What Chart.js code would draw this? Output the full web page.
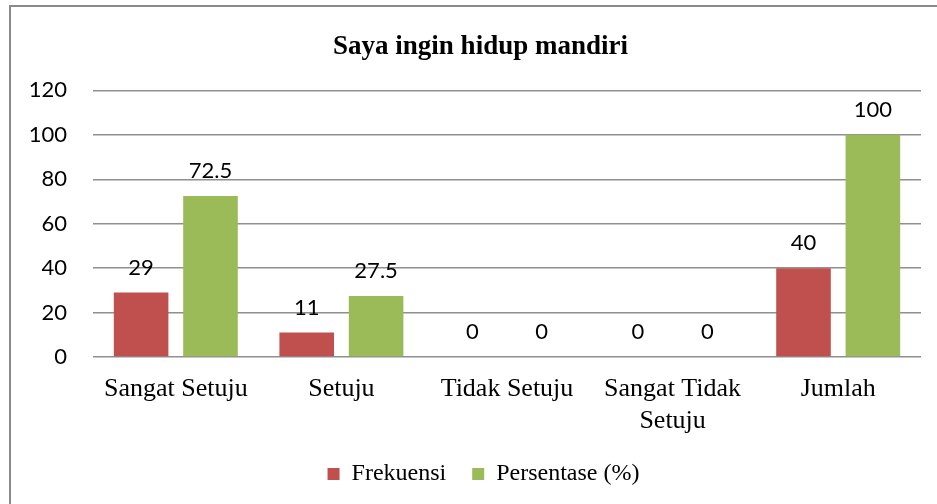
<!DOCTYPE html>
<html>
<head>
<meta charset="utf-8">
<script src="https://cdn.jsdelivr.net/npm/chart.js@4.4.1/dist/chart.umd.min.js"></script>
<style>
    body { margin: 0; background: #fff; overflow: hidden; }
    #wrap { position: relative; width: 937px; height: 504px; }
    #frame {
        position: absolute; left: 9px; top: 5px; width: 960px; height: 540px;
        border: 2px solid #8a8a8a; pointer-events: none;
    }
</style>
</head>
<body>
<div id="wrap">
    <canvas id="myBarChart" width="937" height="504"></canvas>
    <div id="frame"></div>
</div>
<script>
// data
const categories = ['Sangat Setuju', 'Setuju', 'Tidak Setuju', ['Sangat Tidak', 'Setuju'], 'Jumlah'];
const frekuensi = [29, 11, 0, 0, 40];
const persentase = [72.5, 27.5, 0, 0, 100];
const yMin = 0;
const yMax = 120;
const yStep = 20;

// angka di atas batang
const valueLabels = {
    id: 'valueLabels',
    afterDatasetsDraw(chart) {
        const ctx = chart.ctx;
        ctx.save();
        ctx.font = '22px Lato';
        ctx.fillStyle = '#000';
        ctx.textAlign = 'center';
        ctx.textBaseline = 'alphabetic';
        chart.data.datasets.forEach(function (ds, i) {
            chart.getDatasetMeta(i).data.forEach(function (bar, j) {
                ctx.fillText(String(ds.data[j]), bar.x, bar.y - 18);
            });
        });
        ctx.restore();
    }
};

// judul dan legenda sedikit ke kanan (bingkai asli lebih lebar)
const shiftBoxes = {
    id: 'shiftBoxes',
    afterLayout(chart) {
        if (chart.titleBlock) {
            chart.titleBlock.left += 20;
            chart.titleBlock.right += 20;
        }
        if (chart.legend) {
            chart.legend.left += 23;
            chart.legend.right += 23;
        }
    }
};

function createChart() {
    var data = {
        labels: categories,
        datasets: [
            {
                label: 'Frekuensi',
                data: frekuensi,
                backgroundColor: '#C0504D'
            },
            {
                label: 'Persentase (%)',
                data: persentase,
                backgroundColor: '#9BBB59'
            }
        ]
    };

    var options = {
        responsive: false,
        animation: false,
        devicePixelRatio: 1,
        categoryPercentage: 0.838,
        barPercentage: 0.787,
        layout: {
            padding: { left: 0, right: 16, top: 0, bottom: 8 }
        },
        plugins: {
            title: {
                display: true,
                text: 'Saya ingin hidup mandiri',
                color: '#000',
                font: { family: 'Liberation Serif', size: 27, weight: 'bold' },
                padding: { top: 31, bottom: 27 }
            },
            legend: {
                position: 'bottom',
                labels: {
                    color: '#000',
                    font: { family: 'Liberation Serif', size: 24 },
                    boxWidth: 12,
                    boxHeight: 12,
                    padding: 26
                }
            },
            tooltip: { enabled: false }
        },
        scales: {
            x: {
                grid: { display: false, drawTicks: false },
                border: { display: false },
                ticks: {
                    color: '#000',
                    font: { family: 'Liberation Serif', size: 26, lineHeight: 1.2 },
                    padding: 17,
                    maxRotation: 0,
                    autoSkip: false
                },
                afterFit: function (scale) { scale.height = 79; }
            },
            y: {
                min: yMin,
                max: yMax,
                border: { display: false },
                grid: { color: '#8f8f8f', lineWidth: 1.5, drawTicks: false },
                ticks: {
                    stepSize: yStep,
                    color: '#000',
                    font: { family: 'Lato', size: 22 },
                    padding: 26
                },
                afterFit: function (scale) { scale.width = 93; }
            }
        }
    };

    var ctx = document.getElementById('myBarChart').getContext('2d');
    var myBarChart = new Chart(ctx, {
        type: 'bar',
        data: data,
        options: options,
        plugins: [valueLabels, shiftBoxes]
    });
}

document.addEventListener("DOMContentLoaded", function () {
    createChart();
});
</script>
</body>
</html>
